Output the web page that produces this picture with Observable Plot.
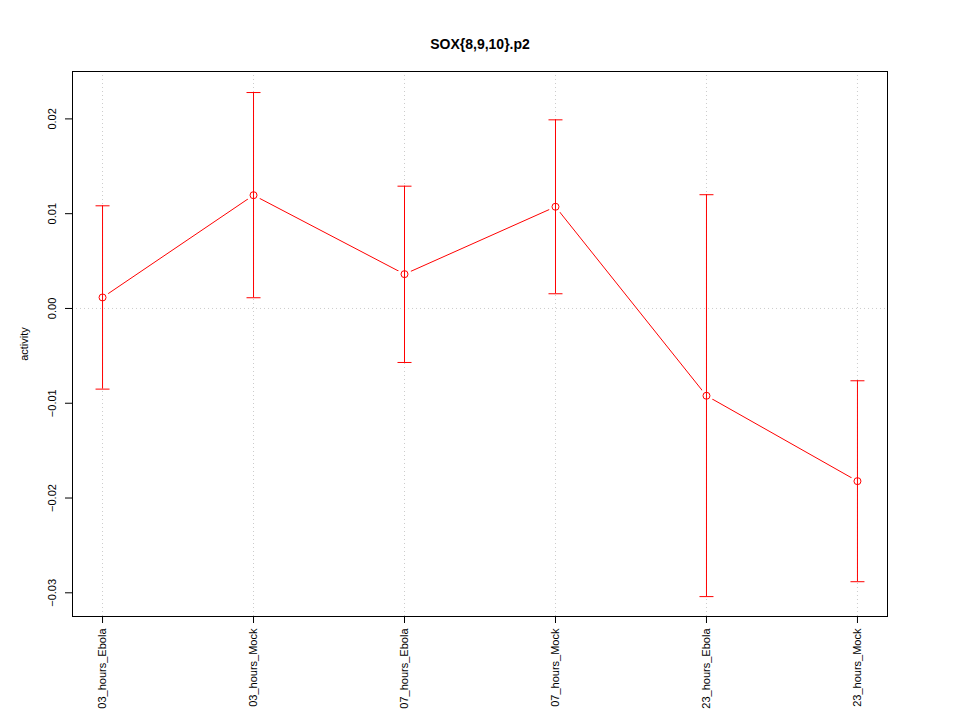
<!DOCTYPE html>
<html>
<head>
<meta charset="utf-8">
<script src="https://cdn.jsdelivr.net/npm/d3@7"></script>
<script src="https://cdn.jsdelivr.net/npm/@observablehq/plot@0.6"></script>
<style>
  body { margin: 0; background: #fff; }
  svg { font-family: "Liberation Sans", Arial, Helvetica, sans-serif; }
</style>
</head>
<body>
<div id="chart"></div>
<script>
const categories = ["03_hours_Ebola", "03_hours_Mock", "07_hours_Ebola", "07_hours_Mock", "23_hours_Ebola", "23_hours_Mock"];
const means = [0.00116, 0.01195, 0.00362, 0.01073, -0.00921, -0.01822];
const upper = [0.01083, 0.02278, 0.01290, 0.01990, 0.01200, -0.00763];
const lower = [-0.00851, 0.00113, -0.00570, 0.00155, -0.03040, -0.02883];
const yTicks = [-0.03, -0.02, -0.01, 0.00, 0.01, 0.02];
const title = "SOX{8,9,10}.p2";
const yLabel = "activity";

const data = categories.map((c, i) => ({cat: c, mean: means[i], upper: upper[i], lower: lower[i]}));
const red = "#ff0000";
const grid = "#cccccc";
const capSymbol = {draw(context) { context.moveTo(-7, 0); context.lineTo(7, 0); }};

const chart = Plot.plot({
  width: 960,
  height: 720,
  marginLeft: 72,
  marginRight: 73,
  marginTop: 71,
  marginBottom: 104,
  style: {fontFamily: '"Liberation Sans", Arial, Helvetica, sans-serif', fontSize: "11px", background: "#fff"},
  x: {type: "point", domain: categories, padding: 0.199, round: false, axis: null},
  y: {domain: [-0.0325, 0.0250], axis: null},
  marks: [
    Plot.ruleX(categories, {x: d => d, stroke: grid, strokeDasharray: "1,3", strokeWidth: 1}),
    Plot.ruleY([0], {stroke: grid, strokeDasharray: "1,3", strokeWidth: 1}),
    Plot.frame({stroke: "#000", strokeWidth: 1}),
    Plot.axisY({ticks: yTicks, tickSize: 7, tickFormat: () => "", stroke: "#000", label: null}),
    Plot.axisX({ticks: categories, tickSize: 7, tickFormat: () => "", stroke: "#000", label: null}),
    Plot.text(yTicks, {y: d => d, text: d => d3.format(".2f")(d), frameAnchor: "left", dx: -20, rotate: -90, textAnchor: "middle", lineAnchor: "middle", fill: "#000", fontSize: 11}),
    Plot.text(categories, {x: d => d, text: d => d, frameAnchor: "bottom", dy: 12, rotate: -90, textAnchor: "end", lineAnchor: "middle", fill: "#000", fontSize: 11}),
    Plot.line(data, {x: "cat", y: "mean", stroke: red, strokeWidth: 1}),
    Plot.dot(data, {x: "cat", y: "mean", r: 7, fill: "#fff", stroke: null}),
    Plot.ruleX(data, {x: "cat", y1: "lower", y2: "upper", stroke: red, strokeWidth: 1}),
    Plot.dot(data, {x: "cat", y: "upper", symbol: capSymbol, stroke: red, fill: "none", strokeWidth: 1}),
    Plot.dot(data, {x: "cat", y: "lower", symbol: capSymbol, stroke: red, fill: "none", strokeWidth: 1}),
    Plot.dot(data, {x: "cat", y: "mean", r: 3.5, stroke: red, fill: "none", strokeWidth: 1}),
    Plot.text([title], {text: d => d, frameAnchor: "top", dy: -27, fontWeight: "bold", fontSize: 14, fill: "#000", lineAnchor: "middle"}),
    Plot.text([yLabel], {text: d => d, frameAnchor: "left", dx: -48, rotate: -90, textAnchor: "middle", lineAnchor: "middle", fill: "#000", fontSize: 11})
  ]
});
document.getElementById("chart").appendChild(chart);
</script>
</body>
</html>
